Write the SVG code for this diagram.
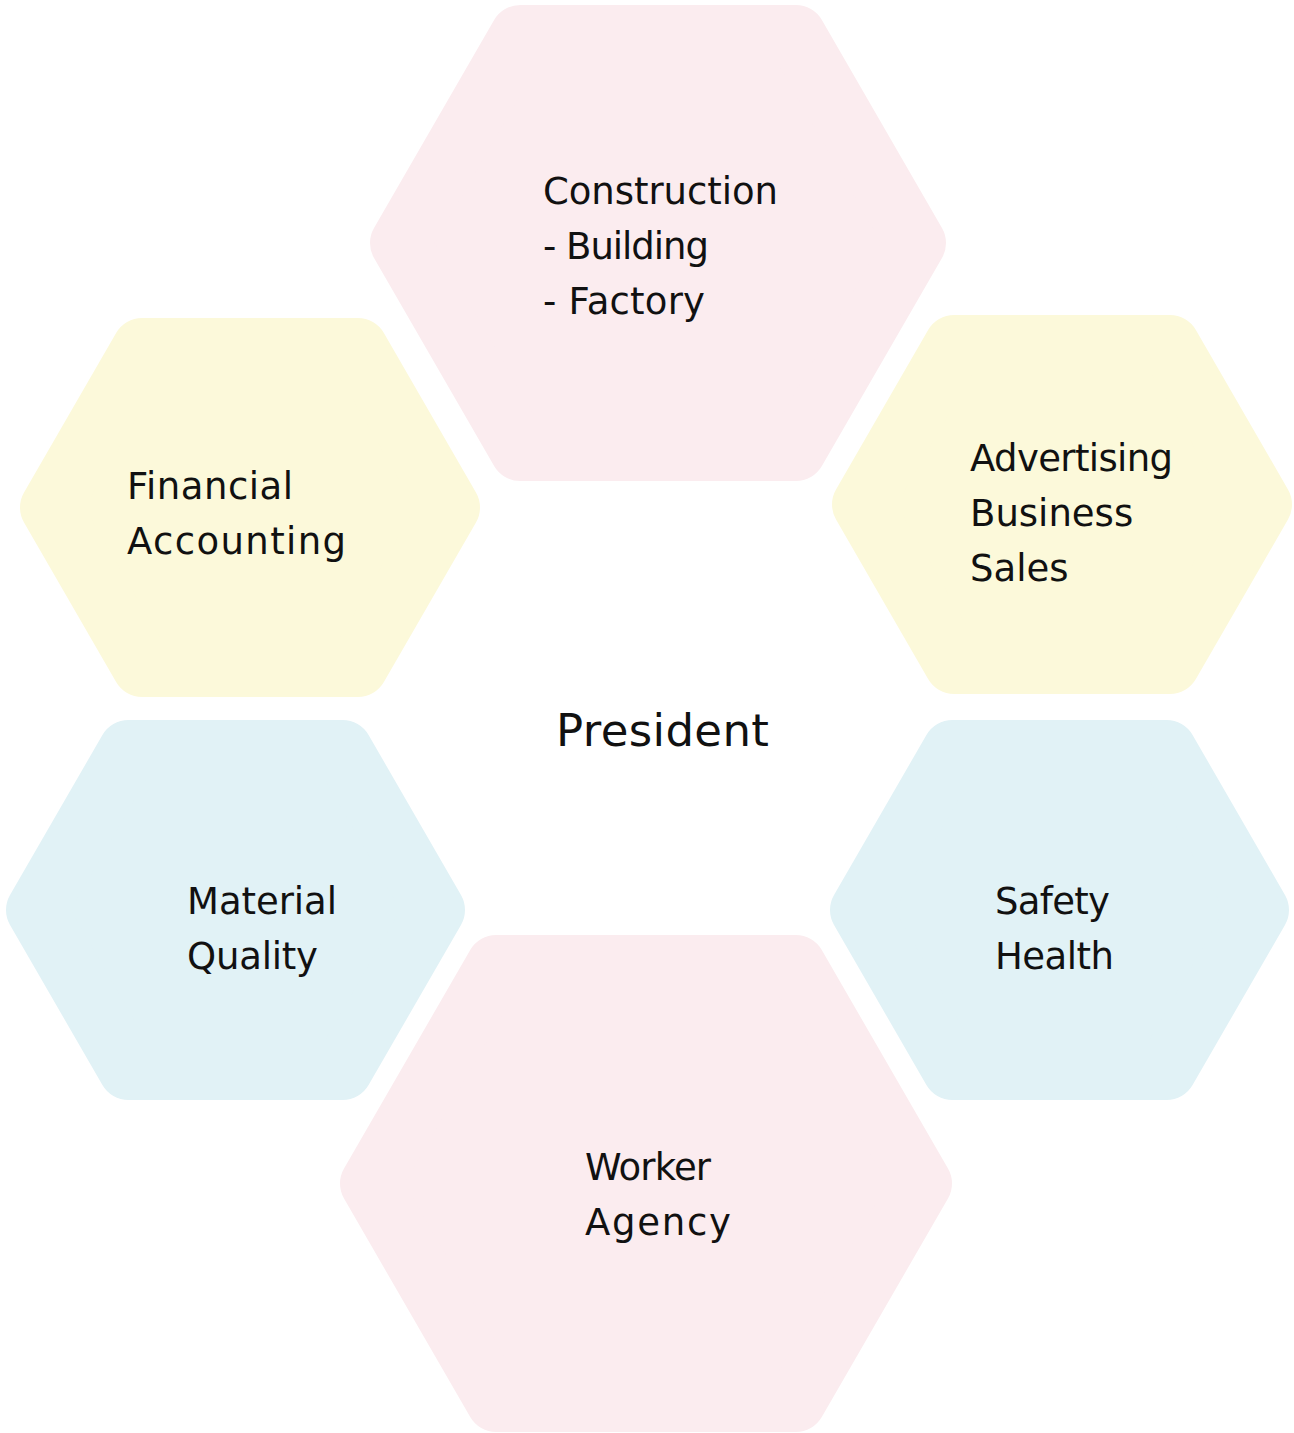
<svg xmlns="http://www.w3.org/2000/svg" width="1294" height="1433" viewBox="0 0 1294 1433">
  <style>
    .hex { stroke-width: 60; stroke-linejoin: round; }
    .pink { fill: #fbecef; stroke: #fbecef; }
    .yellow { fill: #fcf9da; stroke: #fcf9da; }
    .blue { fill: #e1f2f6; stroke: #e1f2f6; }
    .lbl { font-family: "DejaVu Sans", "Liberation Sans", sans-serif; font-size: 37px; fill: #111111; }
    .title { font-family: "DejaVu Sans", "Liberation Sans", sans-serif; font-size: 45px; fill: #111111; }
  </style>
  <rect x="0" y="0" width="1294" height="1433" fill="#ffffff"/>
  <g id="connectors"></g>
  <g id="construction">
    <polygon class="hex pink" points="400,243 520.1,35 795.9,35 916,243 795.9,451 520.1,451"/>
    <text class="lbl" x="543" y="204" textLength="235">Construction</text>
    <text class="lbl" x="543" y="259" textLength="166">- Building</text>
    <text class="lbl" x="543" y="314" textLength="162">- Factory</text>
  </g>
  <g id="financial">
    <polygon class="hex yellow" points="50,507.5 142.1,348 357.9,348 450,507.5 357.9,667 142.1,667"/>
    <text class="lbl" x="127" y="498.5" textLength="166">Financial</text>
    <text class="lbl" x="127" y="553.5" textLength="219">Accounting</text>
  </g>
  <g id="advertising">
    <polygon class="hex yellow" points="862,504.5 954.1,345 1169.9,345 1262,504.5 1169.9,664 954.1,664"/>
    <text class="lbl" x="970" y="470.5" textLength="203">Advertising</text>
    <text class="lbl" x="970" y="525.5">Business</text>
    <text class="lbl" x="970" y="580.5">Sales</text>
  </g>
  <g id="material">
    <polygon class="hex blue" points="36,910 128.4,750 342.6,750 435,910 342.6,1070 128.4,1070"/>
    <text class="lbl" x="187" y="913.5" textLength="150">Material</text>
    <text class="lbl" x="187" y="968.5" textLength="131">Quality</text>
  </g>
  <g id="safety">
    <polygon class="hex blue" points="860,910 952.4,750 1166.6,750 1259,910 1166.6,1070 952.4,1070"/>
    <text class="lbl" x="995" y="913.5" textLength="115">Safety</text>
    <text class="lbl" x="995" y="968.5" textLength="119">Health</text>
  </g>
  <g id="worker">
    <polygon class="hex pink" points="370,1183.5 496.2,965 795.8,965 922,1183.5 795.8,1402 496.2,1402"/>
    <text class="lbl" x="585" y="1179.5" textLength="126">Worker</text>
    <text class="lbl" x="585" y="1234.5" textLength="146">Agency</text>
  </g>
  <g id="president">
    <text class="title" x="556" y="746" textLength="213">President</text>
  </g>
</svg>
